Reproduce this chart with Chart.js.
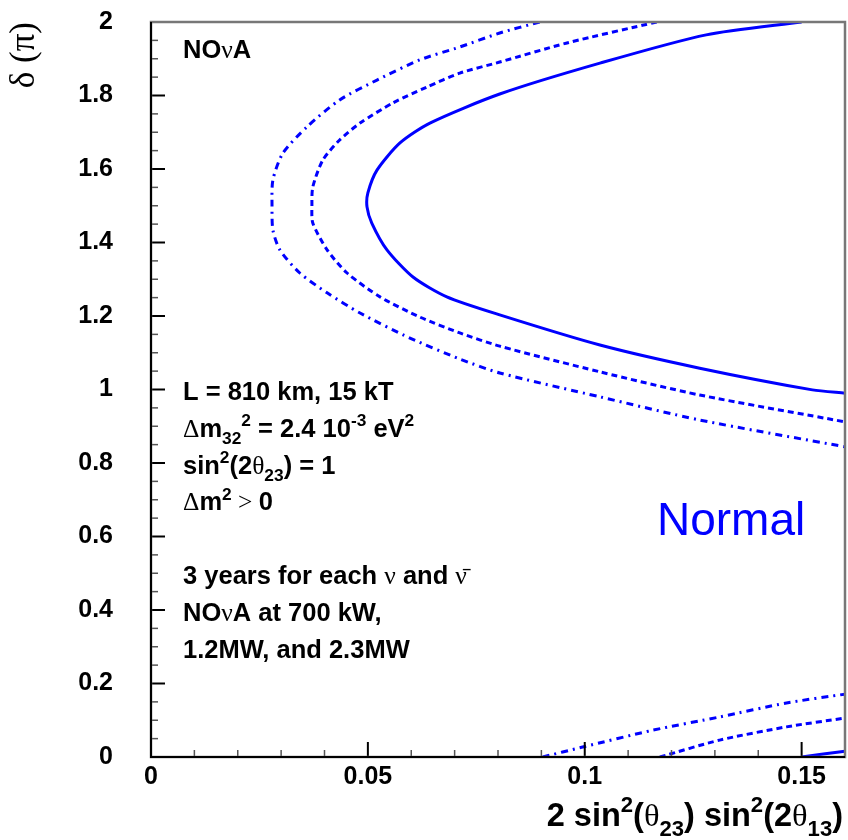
<!DOCTYPE html>
<html lang="en">
<head>
<meta charset="UTF-8">
<title>NOvA mass hierarchy reach</title>
<script src="https://cdn.jsdelivr.net/npm/chart.js@4"></script>
<style>
  body { margin: 0; background: #fff; }
</style>
</head>
<body>
<canvas id="myChart" width="848" height="840"></canvas>
<script>
// axis ticks
const xTicks = [0, 0.05, 0.1, 0.15];
const xTickLabels = ['0', '0.05', '0.1', '0.15'];
const yTicks = [0, 0.2, 0.4, 0.6, 0.8, 1, 1.2, 1.4, 1.6, 1.8, 2];
const yTickLabels = ['0', '0.2', '0.4', '0.6', '0.8', '1', '1.2', '1.4', '1.6', '1.8', '2'];

// solid contour (wraps from delta = 2 back to delta = 0)
const solidX = [0.150, 0.128, 0.1035, 0.0804, 0.0643, 0.0574, 0.0521, 0.0500, 0.0498, 0.0509, 0.0544, 0.0604, 0.0682, 0.0804, 0.1035, 0.1265, 0.1525, 0.160];
const solidY = [2.0, 1.965, 1.888, 1.804, 1.725, 1.671, 1.597, 1.535, 1.497, 1.453, 1.380, 1.306, 1.252, 1.203, 1.121, 1.058, 0.999, 0.990];
const solidLowX = [0.150, 0.160];
const solidLowY = [0, 0.016];

// dashed contour
const dashX = [0.1166, 0.0959, 0.0804, 0.0712, 0.0636, 0.0558, 0.0482, 0.0435, 0.0396, 0.0373, 0.0371, 0.0373, 0.0406, 0.0452, 0.0528, 0.0620, 0.0712, 0.0804, 0.1035, 0.1265, 0.160];
const dashY = [2.0, 1.943, 1.891, 1.861, 1.823, 1.780, 1.725, 1.679, 1.624, 1.551, 1.50, 1.453, 1.380, 1.317, 1.252, 1.197, 1.154, 1.118, 1.048, 0.985, 0.912];
const dashLowX = [0.1173, 0.1311, 0.1465, 0.160];
const dashLowY = [0, 0.046, 0.082, 0.106];

// dash-dot contour
const dotX = [0.0896, 0.0804, 0.0712, 0.0620, 0.0521, 0.0435, 0.0359, 0.0304, 0.0281, 0.0279, 0.0281, 0.0297, 0.0343, 0.0406, 0.0482, 0.0597, 0.0712, 0.0804, 0.1035, 0.1265, 0.160];
const dotY = [2.0, 1.970, 1.932, 1.897, 1.842, 1.788, 1.714, 1.643, 1.570, 1.50, 1.434, 1.380, 1.317, 1.263, 1.208, 1.140, 1.083, 1.045, 0.980, 0.917, 0.844];
const dotLowX = [0.0903, 0.0995, 0.1157, 0.1311, 0.1465, 0.160];
const dotLowY = [0, 0.027, 0.073, 0.109, 0.147, 0.171];

const SANS = "'Liberation Sans', Arial, Helvetica, sans-serif";
const SERIF = "'Liberation Serif', 'DejaVu Serif', serif";
const BLUE = '#0000ff';

function pts(xs, ys) {
    return xs.map((x, i) => ({ x: x, y: ys[i] }));
}

function line(xs, ys, dash) {
    return {
        data: pts(xs, ys),
        showLine: true,
        borderColor: BLUE,
        borderWidth: 3,
        borderDash: dash,
        pointRadius: 0,
        tension: 0.25,
        clip: 0
    };
}

// rich text: parts with optional greek font, sub and superscripts
function partFont(p, size) {
    const s = (p.sub || p.sup) ? size * 0.68 : size;
    return p.g ? `${s}px ${SERIF}` : `bold ${s}px ${SANS}`;
}

function richWidth(ctx, parts, size) {
    let w = 0;
    parts.forEach(p => { ctx.font = partFont(p, size); w += ctx.measureText(p.t).width; });
    return w;
}

function drawRich(ctx, parts, x, y, size, color) {
    ctx.fillStyle = color || '#000';
    ctx.textBaseline = 'alphabetic';
    ctx.textAlign = 'left';
    parts.forEach(p => {
        ctx.font = partFont(p, size);
        let dy = 0;
        if (p.sup) dy = -size * 0.42;
        if (p.sub) dy = size * 0.3;
        ctx.fillText(p.t, x, y + dy);
        x += ctx.measureText(p.t).width;
    });
}

const infoLines = [
    [{ t: 'L = 810 km, 15 kT' }],
    [{ t: 'Δ', g: 1 }, { t: 'm' }, { t: '32', sub: 1 }, { t: '2', sup: 1 }, { t: ' = 2.4 10' }, { t: '-3', sup: 1 }, { t: ' eV' }, { t: '2', sup: 1 }],
    [{ t: 'sin' }, { t: '2', sup: 1 }, { t: '(2' }, { t: 'θ', g: 1 }, { t: '23', sub: 1 }, { t: ') = 1' }],
    [{ t: 'Δ', g: 1 }, { t: 'm' }, { t: '2', sup: 1 }, { t: ' > ', g: 1 }, { t: '0' }],
    [],
    [{ t: '3 years for each ' }, { t: 'ν', g: 1 }, { t: ' and ' }, { t: 'ν̄', g: 1 }],
    [{ t: 'NO' }, { t: 'ν', g: 1 }, { t: 'A at 700 kW,' }],
    [{ t: '1.2MW, and 2.3MW' }]
];
const xTitle = [{ t: '2 sin' }, { t: '2', sup: 1 }, { t: '(' }, { t: 'θ', g: 1 }, { t: '23', sub: 1 }, { t: ') sin' }, { t: '2', sup: 1 }, { t: '(2' }, { t: 'θ', g: 1 }, { t: '13', sub: 1 }, { t: ')' }];

const decor = {
    id: 'decor',
    afterDraw(chart) {
        const { ctx, chartArea: a, scales: { x, y } } = chart;
        ctx.save();

        // inside tick marks
        for (let i = 0; i <= 16; i++) {
            const px = x.getPixelForValue(i / 100);
            const major = i % 5 === 0;
            ctx.strokeStyle = major ? '#000' : '#555';
            ctx.lineWidth = major ? 2 : 1.5;
            ctx.beginPath();
            ctx.moveTo(px, a.bottom);
            ctx.lineTo(px, a.bottom - (major ? 15 : 7));
            ctx.stroke();
        }
        for (let i = 0; i <= 40; i++) {
            const py = y.getPixelForValue(i / 20);
            const major = i % 4 === 0;
            ctx.strokeStyle = major ? '#000' : '#555';
            ctx.lineWidth = major ? 2 : 1.5;
            ctx.beginPath();
            ctx.moveTo(a.left, py);
            ctx.lineTo(a.left + (major ? 14 : 7), py);
            ctx.stroke();
        }

        // frame
        ctx.strokeStyle = '#777';
        ctx.lineWidth = 2.5;
        ctx.strokeRect(a.left, a.top, a.right - a.left, a.bottom - a.top);
        ctx.strokeStyle = '#000';
        ctx.lineWidth = 2;
        ctx.beginPath();
        ctx.moveTo(a.left, a.top);
        ctx.lineTo(a.left, a.bottom);
        ctx.lineTo(a.right, a.bottom);
        ctx.stroke();

        // labels inside the plot
        drawRich(ctx, [{ t: 'NO' }, { t: 'ν', g: 1 }, { t: 'A' }], a.left + 32, a.top + 36, 25.5);
        infoLines.forEach((parts, i) => {
            drawRich(ctx, parts, a.left + 32, a.top + 378 + i * 36.8, 25.5);
        });

        ctx.font = `46px ${SANS}`;
        ctx.fillStyle = BLUE;
        ctx.fillText('Normal', 657, 535);

        // axis titles
        const tw = richWidth(ctx, xTitle, 32.5);
        drawRich(ctx, xTitle, 843 - tw, 826, 32.5);

        ctx.save();
        ctx.translate(34, 22);
        ctx.rotate(-Math.PI / 2);
        ctx.font = `35px ${SERIF}`;
        ctx.fillStyle = '#000';
        ctx.textAlign = 'right';
        ctx.textBaseline = 'alphabetic';
        ctx.fillText('δ (π)', 0, 0);
        ctx.restore();

        ctx.restore();
    }
};

const tickFont = { family: SANS, size: 25, weight: 'bold' };

const ctx = document.getElementById('myChart').getContext('2d');
const myChart = new Chart(ctx, {
    type: 'scatter',
    data: {
        datasets: [
            line(dotX, dotY, [7, 5, 2, 5]),
            line(dotLowX, dotLowY, [7, 5, 2, 5]),
            line(dashX, dashY, [6, 4]),
            line(dashLowX, dashLowY, [6, 4]),
            line(solidX, solidY, []),
            line(solidLowX, solidLowY, [])
        ]
    },
    options: {
        responsive: false,
        animation: false,
        layout: { padding: { left: 0, top: 22, right: 3, bottom: 0 } },
        plugins: {
            legend: { display: false },
            tooltip: { enabled: false }
        },
        scales: {
            x: {
                type: 'linear',
                min: 0,
                max: 0.16,
                afterBuildTicks: s => { s.ticks = xTicks.map(v => ({ value: v })); },
                afterFit: s => { s.height = 83; s.paddingLeft = 0; s.paddingRight = 0; },
                grid: { display: false, drawTicks: false },
                border: { display: false },
                ticks: {
                    autoSkip: false,
                    maxRotation: 0,
                    padding: 5,
                    color: '#000',
                    font: tickFont,
                    callback: (v, i) => xTickLabels[i]
                }
            },
            y: {
                type: 'linear',
                min: 0,
                max: 2,
                afterBuildTicks: s => { s.ticks = yTicks.map(v => ({ value: v })); },
                afterFit: s => { s.width = 151; s.paddingTop = 0; s.paddingBottom = 0; },
                grid: { display: false, drawTicks: false },
                border: { display: false },
                ticks: {
                    autoSkip: false,
                    padding: 38,
                    color: '#000',
                    font: tickFont,
                    callback: (v, i) => yTickLabels[i]
                }
            }
        }
    },
    plugins: [decor]
});
</script>
</body>
</html>
